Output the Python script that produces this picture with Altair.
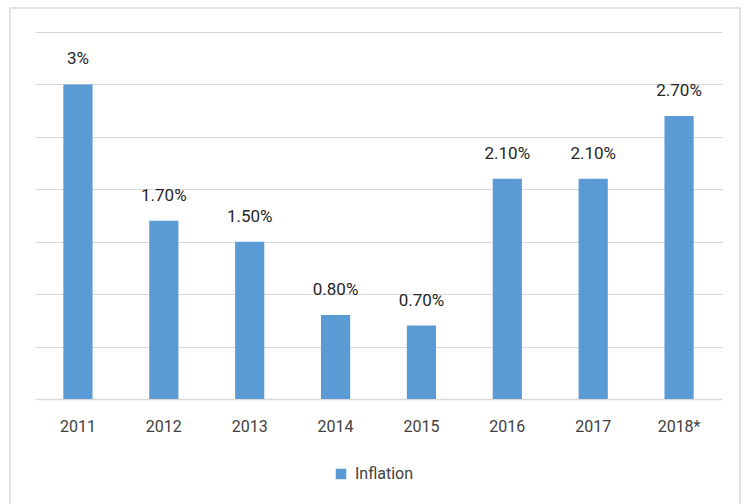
import altair as alt
import pandas as pd

years = ["2011", "2012", "2013", "2014", "2015", "2016", "2017", "2018*"]
inflation = [3.0, 1.7, 1.5, 0.8, 0.7, 2.1, 2.1, 2.7]
labels = ["3%", "1.70%", "1.50%", "0.80%", "0.70%", "2.10%", "2.10%", "2.70%"]
series = ["Inflation"] * len(years)

df = pd.DataFrame({"year": years, "value": inflation, "label": labels, "series": series})

FONT = "Roboto, Open Sans, sans-serif"
TXT = "#404040"

base = alt.Chart(df)

frame = alt.Chart(pd.DataFrame({"a": [0]})).mark_rect(
    fill=None, stroke="#d9d9d9", strokeWidth=1.5, clip=False
).encode(
    x=alt.value(-25), x2=alt.value(705), y=alt.value(-24), y2=alt.value(480)
)

bars = base.mark_bar(color="#5B9BD5").encode(
    x=alt.X("year:N", sort=years, title=None,
            scale=alt.Scale(paddingInner=0.66, paddingOuter=0.33),
            axis=alt.Axis(labelAngle=0, labelFont=FONT, labelFontSize=16, labelColor=TXT,
                          labelPadding=19, ticks=False, domain=True, domainColor="#d9d9d9",
                          domainWidth=1.5)),
    y=alt.Y("value:Q", title=None,
            scale=alt.Scale(domain=[0, 3.5], nice=False),
            axis=alt.Axis(values=[0, 0.5, 1, 1.5, 2, 2.5, 3, 3.5], labels=False, ticks=False,
                          domain=False, gridColor="#d9d9d9", gridWidth=1.2)),
    fill=alt.Fill("series:N", scale=alt.Scale(range=["#5B9BD5"]),
                  legend=alt.Legend(title=None, orient="none", legendX=298, legendY=434,
                                    symbolType="square", symbolSize=110, symbolStrokeWidth=0,
                                    labelFont=FONT, labelFontSize=16, labelColor=TXT,
                                    labelOffset=6)),
)

text = base.mark_text(baseline="bottom", dy=-16, font=FONT, fontSize=17, color="#262626").encode(
    x=alt.X("year:N", sort=years),
    y=alt.Y("value:Q"),
    text="label:N",
)

chart = alt.layer(frame, bars, text).properties(
    width=687, height=367,
    autosize=alt.AutoSizeParams(type="none"),
    padding={"left": 35, "top": 32, "right": 23, "bottom": 105},
    background="white",
).configure_view(stroke=None)

chart.save("out.html", embed_options={"renderer": "svg", "actions": False})
